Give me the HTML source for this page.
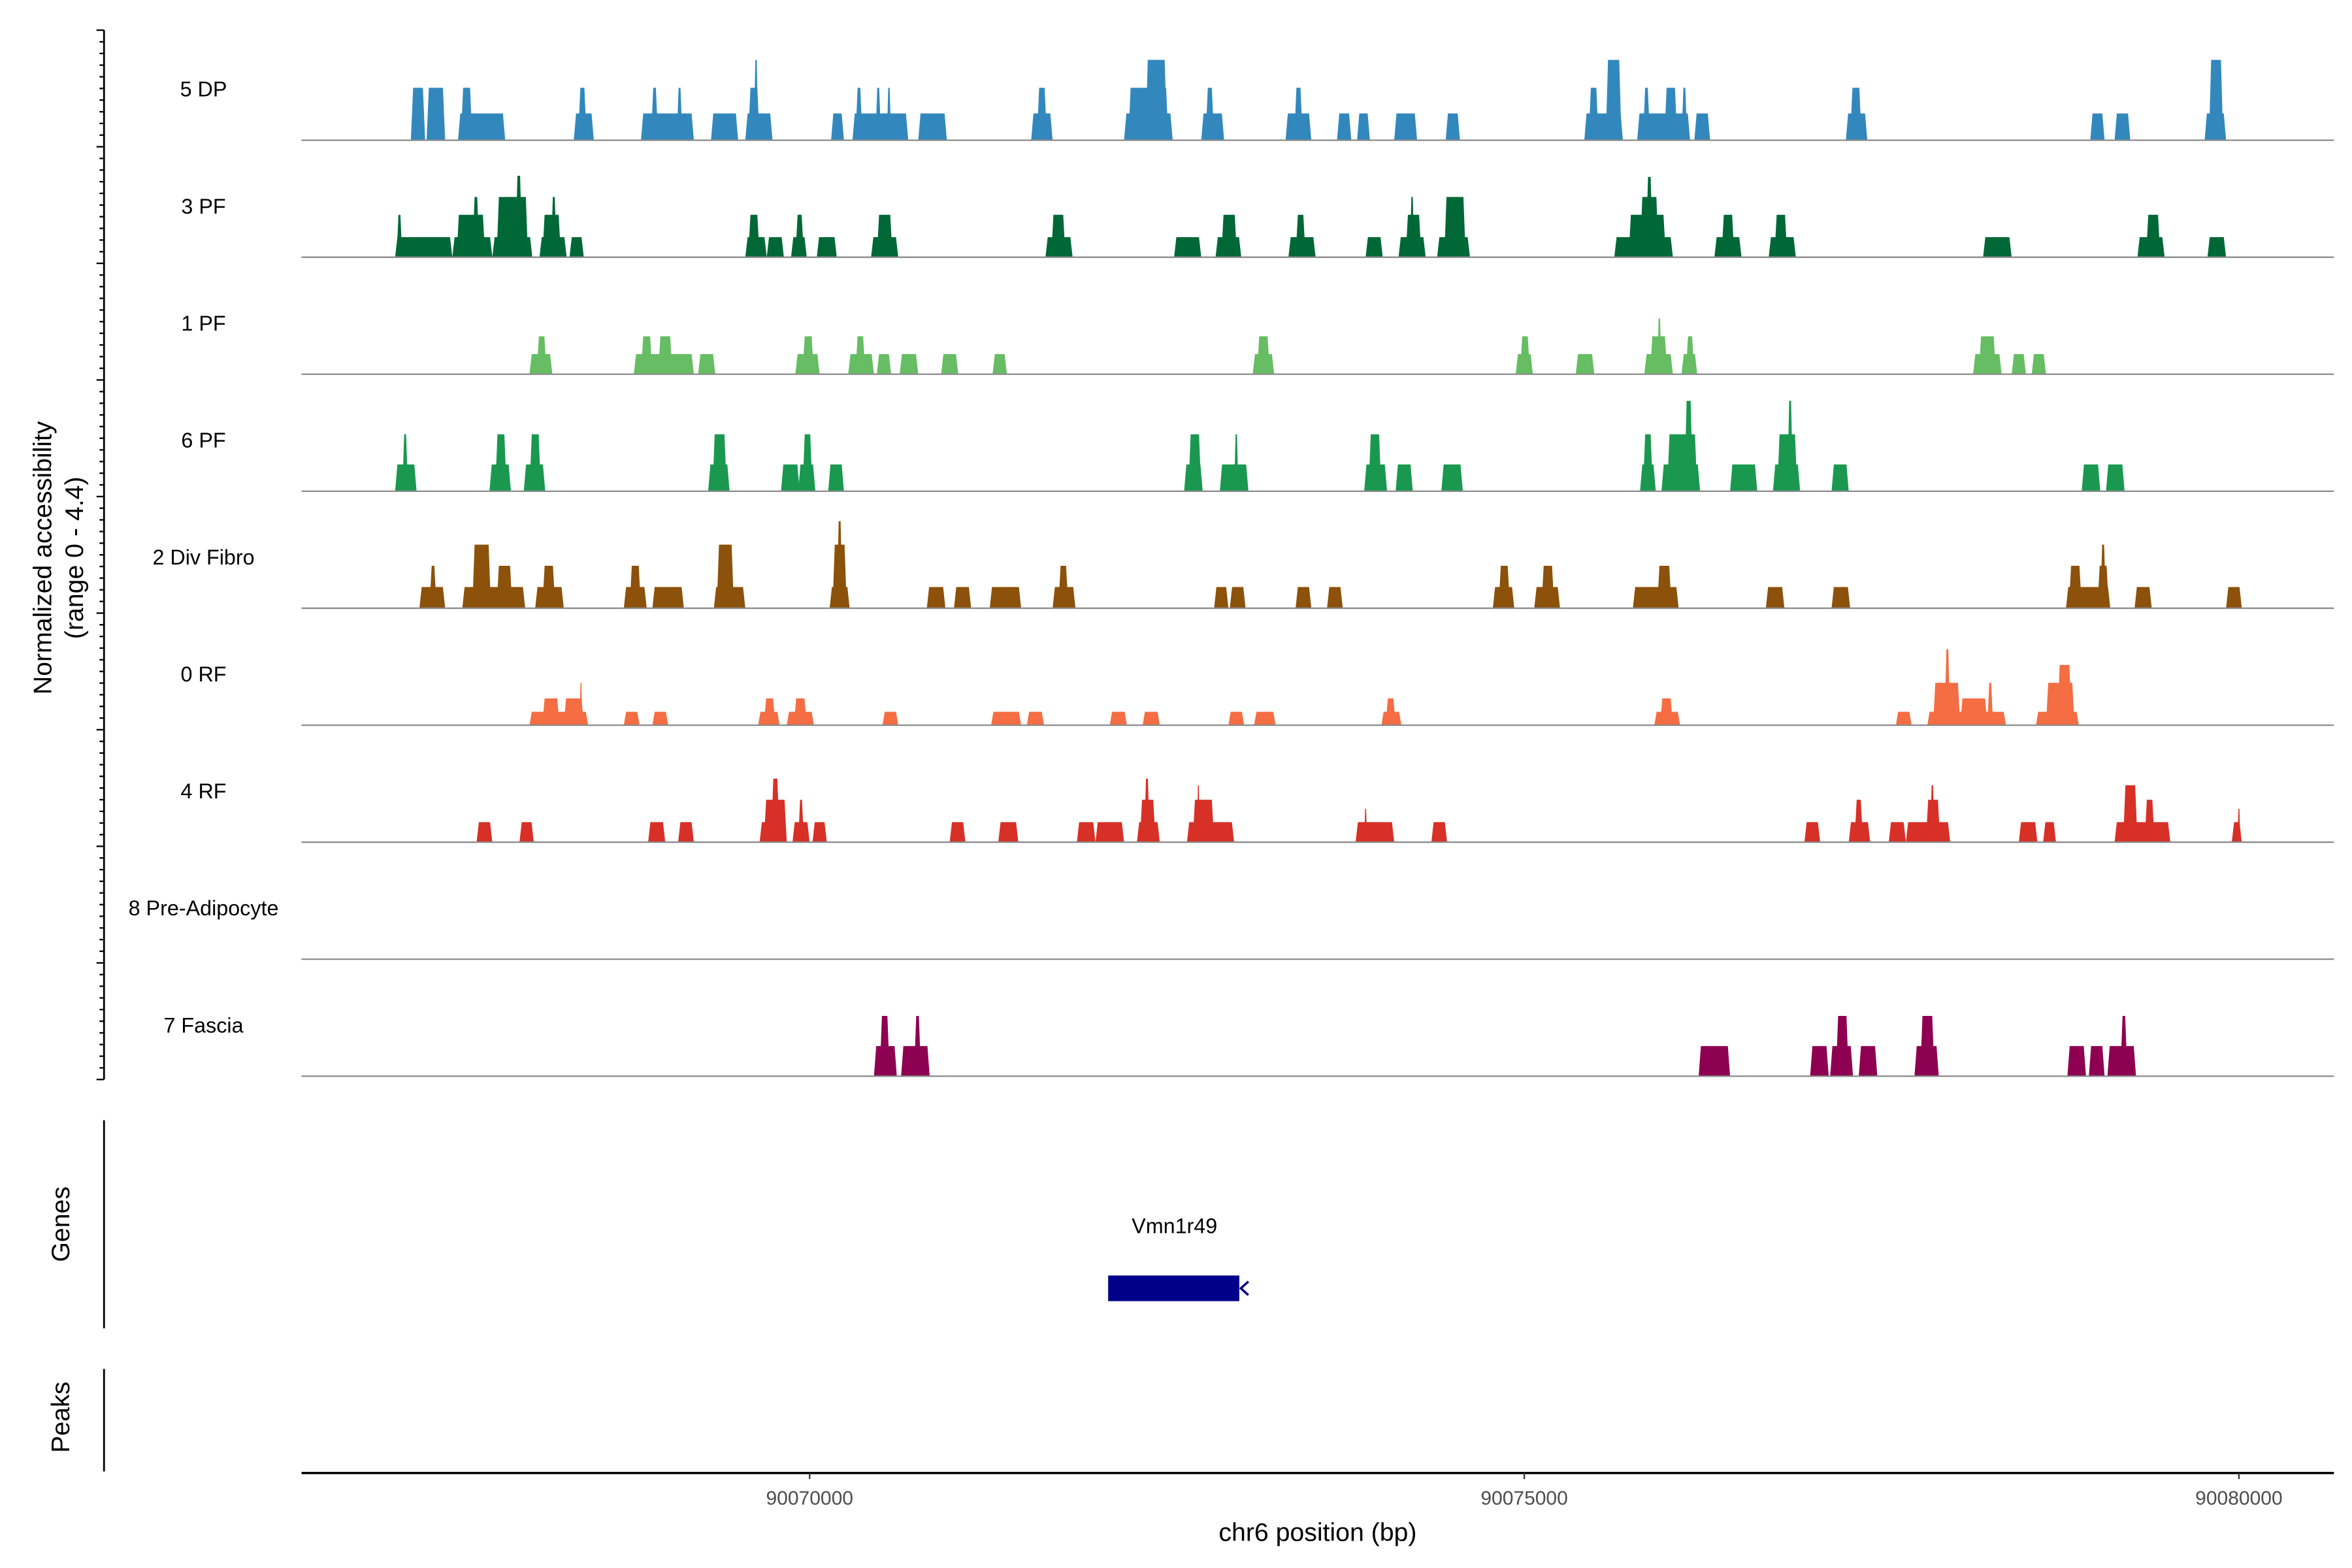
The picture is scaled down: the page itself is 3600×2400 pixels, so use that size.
<!DOCTYPE html>
<html><head><meta charset="utf-8"><style>
html,body{margin:0;padding:0;background:#fff}
svg{display:block}
text{font-family:"Liberation Sans",Arial,sans-serif;fill:#000}
</style></head><body>
<svg id="chart" width="3600" height="2400" viewBox="0 0 1560 1040" xmlns="http://www.w3.org/2000/svg">
<g id="tracks"></g>
<g id="yaxis"></g>
<text transform="translate(34,370) rotate(-90)" text-anchor="middle" font-size="17">Normalized accessibility</text>
<text transform="translate(55,370) rotate(-90)" text-anchor="middle" font-size="17">(range 0 - 4.4)</text>
<line x1="69" y1="743" x2="69" y2="881" stroke="#000" stroke-width="1.2"/>
<text transform="translate(46,812) rotate(-90)" text-anchor="middle" font-size="17">Genes</text>
<g>
<text x="779" y="818" text-anchor="middle" font-size="14">Vmn1r49</text>
<rect x="735" y="846" width="87" height="17" fill="#00008B"/>
<path d="M828,850 L823,854.5 L828,859" fill="none" stroke="#00008B" stroke-width="1.5"/>
</g>
<line x1="69" y1="908" x2="69" y2="976" stroke="#000" stroke-width="1.2"/>
<text transform="translate(46,940) rotate(-90)" text-anchor="middle" font-size="17">Peaks</text>
<g id="xaxis"></g>
<text x="874" y="1022" text-anchor="middle" font-size="17">chr6 position (bp)</text>
</svg>
<script>
const trackNames = ["5 DP","3 PF","1 PF","6 PF","2 Div Fibro","0 RF","4 RF","8 Pre-Adipocyte","7 Fascia"];
const trackColors = ["#3288BD","#006837","#66BD63","#1A9850","#8C510A","#F46D43","#D73027","#9E0142","#8E0152"];
const xTicks = [90070000, 90075000, 90080000];
// peaks: [start kb (offset from 90,000 kb), end kb, normalized value]
const peaks5DP = [[67.21,67.31,2.35],[67.32,67.45,2.35],[67.54,67.87,1.2],[67.56,67.64,2.35],[68.35,68.49,1.2],[68.38,68.44,2.35],[68.82,69.19,1.2],[68.89,68.94,2.35],[69.07,69.11,2.35],[69.31,69.50,1.2],[69.55,69.74,1.2],[69.57,69.65,2.35],[69.61,69.64,3.6],[70.15,70.24,1.2],[70.30,70.69,1.2],[70.32,70.37,2.35],[70.46,70.50,2.35],[70.54,70.57,2.35],[70.76,70.96,1.2],[71.55,71.70,1.2],[71.59,71.66,2.35],[72.20,72.54,1.2],[72.23,72.51,2.35],[72.35,72.50,3.6],[72.74,72.90,1.2],[72.77,72.83,2.35],[73.33,73.51,1.2],[73.39,73.45,2.35],[73.69,73.79,1.2],[73.83,73.92,1.2],[74.09,74.25,1.2],[74.45,74.55,1.2],[75.42,75.69,1.2],[75.45,75.52,2.35],[75.57,75.68,3.6],[75.79,76.16,1.2],[75.83,75.88,2.35],[75.98,76.07,2.35],[76.10,76.14,2.35],[76.19,76.30,1.2],[77.25,77.40,1.2],[77.28,77.36,2.35],[78.96,79.06,1.2],[79.13,79.24,1.2],[79.76,79.91,1.2],[79.79,79.89,3.6]];
const peaks3PF = [[67.10,67.50,0.9],[67.11,67.15,1.9],[67.50,67.78,0.9],[67.53,67.73,1.9],[67.64,67.69,2.7],[67.78,68.06,0.9],[67.81,68.03,2.7],[67.94,67.99,3.65],[68.11,68.30,0.9],[68.13,68.26,1.9],[68.19,68.23,2.7],[68.32,68.42,0.9],[69.55,69.70,0.9],[69.57,69.65,1.9],[69.70,69.82,0.9],[69.87,69.98,0.9],[69.90,69.96,1.9],[70.05,70.19,0.9],[70.43,70.62,0.9],[70.47,70.58,1.9],[71.65,71.84,0.9],[71.69,71.79,1.9],[72.55,72.74,0.9],[72.84,73.02,0.9],[72.88,72.99,1.9],[73.35,73.54,0.9],[73.40,73.47,1.9],[73.89,74.01,0.9],[74.12,74.31,0.9],[74.17,74.28,1.9],[74.20,74.23,2.7],[74.39,74.62,0.9],[74.44,74.59,2.7],[75.63,76.04,0.9],[75.73,75.99,1.9],[75.81,75.94,2.7],[75.85,75.90,3.6],[76.33,76.52,0.9],[76.38,76.47,1.9],[76.71,76.90,0.9],[76.75,76.84,1.9],[78.21,78.41,0.9],[79.29,79.48,0.9],[79.35,79.45,1.9],[79.78,79.91,0.9]];
const peaks1PF = [[68.04,68.20,0.9],[68.09,68.16,1.7],[68.77,69.19,0.9],[68.82,68.90,1.7],[68.94,69.04,1.7],[69.22,69.34,0.9],[69.90,70.07,0.9],[69.95,70.03,1.7],[70.27,70.45,0.9],[70.32,70.39,1.7],[70.47,70.57,0.9],[70.63,70.76,0.9],[70.92,71.04,0.9],[71.28,71.38,0.9],[73.10,73.25,0.9],[73.13,73.22,1.7],[74.94,75.06,0.9],[74.97,75.04,1.7],[75.36,75.49,0.9],[75.84,76.04,0.9],[75.88,76.00,1.7],[75.93,75.96,2.5],[76.10,76.21,0.9],[76.13,76.19,1.7],[78.14,78.34,0.9],[78.18,78.30,1.7],[78.41,78.51,0.9],[78.55,78.65,0.9]];
const peaks6PF = [[67.10,67.25,1.2],[67.15,67.19,2.55],[67.76,67.91,1.2],[67.80,67.88,2.55],[68.00,68.15,1.2],[68.04,68.12,2.55],[69.29,69.44,1.2],[69.32,69.42,2.55],[69.80,69.93,1.2],[69.92,70.04,1.2],[69.95,70.02,2.55],[70.13,70.24,1.2],[72.62,72.75,1.2],[72.65,72.74,2.55],[72.87,73.07,1.2],[72.97,73.00,2.55],[73.88,74.04,1.2],[73.91,74.00,2.55],[74.10,74.22,1.2],[74.42,74.57,1.2],[75.81,75.92,1.2],[75.83,75.90,2.55],[75.96,76.23,1.2],[76.00,76.21,2.55],[76.12,76.18,4.05],[76.44,76.63,1.2],[76.74,76.93,1.2],[76.77,76.91,2.55],[76.84,76.88,4.05],[77.15,77.27,1.2],[78.90,79.03,1.2],[79.07,79.20,1.2]];
const peaksDivFibro = [[67.27,67.45,0.95],[67.34,67.39,1.9],[67.57,68.01,0.95],[67.64,67.77,2.85],[67.81,67.92,1.9],[68.08,68.28,0.95],[68.13,68.22,1.9],[68.70,68.86,0.95],[68.74,68.82,1.9],[68.90,69.12,0.95],[69.33,69.55,0.95],[69.35,69.47,2.85],[70.14,70.28,0.95],[70.16,70.26,2.85],[70.19,70.23,3.9],[70.82,70.95,0.95],[71.01,71.13,0.95],[71.26,71.48,0.95],[71.70,71.86,0.95],[71.74,71.81,1.9],[72.83,72.93,0.95],[72.94,73.05,0.95],[73.40,73.51,0.95],[73.62,73.73,0.95],[74.78,74.93,0.95],[74.82,74.90,1.9],[75.07,75.25,0.95],[75.12,75.21,1.9],[75.76,76.08,0.95],[75.93,76.03,1.9],[76.69,76.82,0.95],[77.15,77.28,0.95],[78.79,79.10,0.95],[78.81,78.90,1.9],[79.01,79.09,1.9],[79.03,79.07,2.85],[79.27,79.39,0.95],[79.91,80.02,0.95]];
const peaks0RF = [[68.04,68.45,0.6],[68.13,68.25,1.2],[68.28,68.42,1.2],[68.39,68.41,1.9],[68.70,68.81,0.6],[68.90,69.01,0.6],[69.64,69.79,0.6],[69.68,69.76,1.2],[69.84,70.03,0.6],[69.89,69.98,1.2],[70.51,70.62,0.6],[71.27,71.48,0.6],[71.52,71.64,0.6],[72.10,72.22,0.6],[72.33,72.45,0.6],[72.93,73.04,0.6],[73.11,73.26,0.6],[74.00,74.14,0.6],[74.03,74.10,1.2],[75.91,76.09,0.6],[75.95,76.04,1.2],[77.60,77.71,0.6],[77.82,78.37,0.6],[77.86,78.05,1.9],[77.94,77.98,3.4],[78.05,78.24,1.2],[78.24,78.28,1.9],[78.58,78.88,0.6],[78.65,78.85,1.9],[78.73,78.83,2.7]];
const peaks4RF = [[67.67,67.78,0.9],[67.97,68.07,0.9],[68.87,68.99,0.9],[69.08,69.19,0.9],[69.65,69.84,0.9],[69.68,69.84,1.9],[69.73,69.79,2.85],[69.88,70.00,0.9],[69.92,69.96,1.9],[70.02,70.12,0.9],[70.98,71.09,0.9],[71.32,71.46,0.9],[71.87,72.00,0.9],[72.00,72.20,0.9],[72.29,72.45,0.9],[72.31,72.42,1.9],[72.34,72.38,2.85],[72.64,72.97,0.9],[72.68,72.83,1.9],[72.71,72.73,2.55],[73.82,74.09,0.9],[73.88,73.90,1.5],[74.35,74.46,0.9],[76.96,77.07,0.9],[77.27,77.42,0.9],[77.31,77.37,1.9],[77.55,77.67,0.9],[77.67,77.98,0.9],[77.81,77.91,1.9],[77.84,77.87,2.55],[78.46,78.59,0.9],[78.63,78.72,0.9],[79.13,79.52,0.9],[79.19,79.29,2.55],[79.34,79.41,1.9],[79.95,80.02,0.9],[79.99,80.01,1.5]];
const peaksPreAdipocyte = [];
const peaksFascia = [[70.45,70.61,1.35],[70.49,70.56,2.7],[70.64,70.84,1.35],[70.73,70.78,2.7],[76.22,76.44,1.35],[77.00,77.13,1.35],[77.14,77.30,1.35],[77.18,77.27,2.7],[77.34,77.47,1.35],[77.73,77.90,1.35],[77.77,77.87,2.7],[78.80,78.93,1.35],[78.95,79.06,1.35],[79.08,79.28,1.35],[79.17,79.22,2.7]];
const allPeaks = [peaks5DP,peaks3PF,peaks1PF,peaks6PF,peaksDivFibro,peaks0RF,peaks4RF,peaksPreAdipocyte,peaksFascia];

const NS="http://www.w3.org/2000/svg";
const plotL=200, plotR=1548;
function xScale(kb){ return 537 + (kb-70)*94.8; }
function xScaleBp(bp){ return 537 + (bp-90070000)*0.0948; }
const firstBase=93, trackStep=77.6, pxPerUnit=14.8;
function yScale(i,v){ return firstBase + i*trackStep - v*pxPerUnit; }

const tracksG=document.getElementById('tracks');
trackNames.forEach((name,i)=>{
  const g=document.createElementNS(NS,'g');
  
  
  const base=yScale(i,0);
  const lab=document.createElementNS(NS,'text');
  
  
  lab.setAttribute('x',135); lab.setAttribute('y',base-29);
  lab.setAttribute('text-anchor','middle'); lab.setAttribute('font-size','14');
  lab.textContent=name; g.appendChild(lab);
  allPeaks[i].forEach(p=>{
    const x1=xScale(p[0]), x2=xScale(p[1]), top=yScale(i,p[2]);
    const s=Math.min(1.5,(x2-x1)/3);
    const poly=document.createElementNS(NS,'polygon');
    
    
    poly.setAttribute('points',`${x1},${base} ${x1+s},${top} ${x2-s},${top} ${x2},${base}`);
    poly.setAttribute('fill',trackColors[i]);
    g.appendChild(poly);
  });
  const ln=document.createElementNS(NS,'line');
  
  
  ln.setAttribute('x1',plotL); ln.setAttribute('x2',plotR);
  ln.setAttribute('y1',base); ln.setAttribute('y2',base);
  ln.setAttribute('stroke','#8c8c8c'); ln.setAttribute('stroke-width','1');
  g.appendChild(ln);
  tracksG.appendChild(g);
});

const ya=document.getElementById('yaxis');
let html='<line x1="69" y1="20" x2="69" y2="716" stroke="#000" stroke-width="1.2"/>';
for(let k=0;k<=90;k++){
  const y=20+k*(696/90);
  const len=(k%10===0)?5:3;
  html+=`<line x1="${69-len}" y1="${y}" x2="69" y2="${y}" stroke="#000" stroke-width="1"/>`;
}
ya.innerHTML=html;

const xa=document.getElementById('xaxis');
let xh=`<line x1="${plotL}" y1="977" x2="${plotR}" y2="977" stroke="#000" stroke-width="1.5"/>`;
xa.innerHTML=xh;
xTicks.forEach(t=>{
  const x=xScaleBp(t);
  const tk=document.createElementNS(NS,'line');
  
  
  tk.setAttribute('x1',x);tk.setAttribute('x2',x);tk.setAttribute('y1',977);tk.setAttribute('y2',981);
  tk.setAttribute('stroke','#333');
  xa.appendChild(tk);
  const tl=document.createElementNS(NS,'text');
  
  
  tl.setAttribute('x',x);tl.setAttribute('y',998);
  tl.setAttribute('text-anchor','middle');tl.setAttribute('font-size','13');
  tl.setAttribute('style','fill:#4d4d4d');
  tl.textContent=String(t);
  xa.appendChild(tl);
});
</script>
</body></html>
